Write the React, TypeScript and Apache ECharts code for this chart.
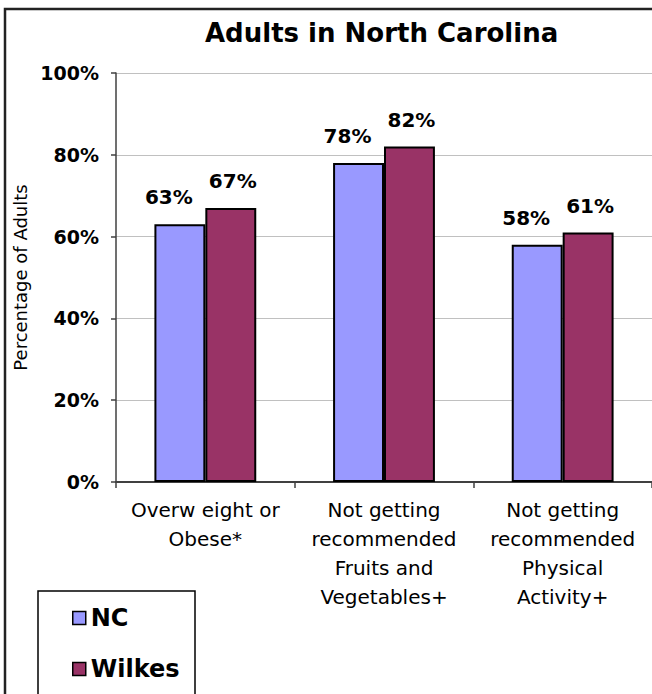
import React, { useEffect, useRef } from "react";
import * as echarts from "echarts";

const categories = [
  "Overw eight or\nObese*",
  "Not getting\nrecommended\nFruits and\nVegetables+",
  "Not getting\nrecommended\nPhysical\nActivity+",
];
const ncValues = [63, 78, 58];
const wilkesValues = [67, 82, 61];
const seriesNames = ["NC", "Wilkes"];
const yTicks = { min: 0, max: 100, interval: 20 };
const titleText = "Adults in North Carolina";
const yAxisName = "Percentage of Adults";

const NC_COLOR = "#9999FF";
const WILKES_COLOR = "#993366";
const WIDE = "DejaVu Sans";

export default function App() {
  const ref = useRef<HTMLDivElement>(null);
  useEffect(() => {
    if (!ref.current) return;
    const chart = echarts.init(ref.current, null, { renderer: "svg" });
    const labelStyle = {
      show: true,
      position: "top",
      distance: 17,
      formatter: "{c}%",
      fontFamily: WIDE,
      fontWeight: "bold",
      fontSize: 20,
      color: "#000",
    };
    chart.setOption({
      animation: false,
      backgroundColor: "#fff",
      title: {
        text: titleText,
        left: 200,
        top: 15,
        textStyle: {
          fontFamily: WIDE,
          fontWeight: "bold",
          fontSize: 26,
          color: "#000",
        },
      },
      grid: { left: 116, top: 73, width: 540, height: 409 },
      legend: {
        orient: "vertical",
        left: 67,
        top: 601,
        itemWidth: 13,
        itemHeight: 13,
        itemGap: 27,
        icon: "rect",
        data: seriesNames,
        itemStyle: { borderColor: "#000", borderWidth: 1.5 },
        textStyle: {
          fontFamily: WIDE,
          fontWeight: "bold",
          fontSize: 24,
          color: "#000",
        },
      },
      xAxis: {
        type: "category",
        data: categories,
        axisLine: { lineStyle: { color: "#404040", width: 2 } },
        axisTick: { show: true, length: 6, lineStyle: { color: "#404040", width: 1.5 } },
        axisLabel: {
          interval: 0,
          margin: 13,
          fontFamily: WIDE,
          fontSize: 20,
          lineHeight: 29,
          color: "#000",
          align: "center",
        },
      },
      yAxis: {
        type: "value",
        min: yTicks.min,
        max: yTicks.max,
        interval: yTicks.interval,
        name: yAxisName,
        nameLocation: "middle",
        nameRotate: 90,
        nameGap: 78,
        nameTextStyle: { fontFamily: WIDE, fontSize: 18, color: "#000" },
        axisLine: { show: true, lineStyle: { color: "#404040", width: 1.5 } },
        axisTick: { show: true, length: 5, lineStyle: { color: "#404040", width: 1.5 } },
        axisLabel: {
          formatter: "{value}%",
          margin: 17,
          fontFamily: WIDE,
          fontWeight: "bold",
          fontSize: 19,
          color: "#000",
        },
        splitLine: { show: true, lineStyle: { color: "#c0c0c0", width: 1 } },
      },
      series: [
        {
          name: seriesNames[0],
          type: "bar",
          data: ncValues,
          barGap: "0%",
          barCategoryGap: "43%",
          itemStyle: { color: NC_COLOR, borderColor: "#000", borderWidth: 2 },
          label: { ...labelStyle, offset: [-11, 0] },
        },
        {
          name: seriesNames[1],
          type: "bar",
          data: wilkesValues,
          barGap: "0%",
          barCategoryGap: "43%",
          itemStyle: { color: WILKES_COLOR, borderColor: "#000", borderWidth: 2 },
          label: { ...labelStyle, offset: [2, 0] },
        },
      ],
      graphic: [
        {
          type: "rect",
          shape: { x: 5, y: 9, width: 800, height: 800 },
          style: { fill: "none", stroke: "#222", lineWidth: 2.5 },
          silent: true,
        },
        {
          type: "rect",
          shape: { x: 38, y: 591, width: 157, height: 300 },
          style: { fill: "none", stroke: "#000", lineWidth: 1.5 },
          silent: true,
        },
      ],
    });
    return () => chart.dispose();
  }, []);
  return (
    <div
      ref={ref}
      style={{ position: "absolute", left: 0, top: 0, width: 652, height: 694 }}
    />
  );
}
